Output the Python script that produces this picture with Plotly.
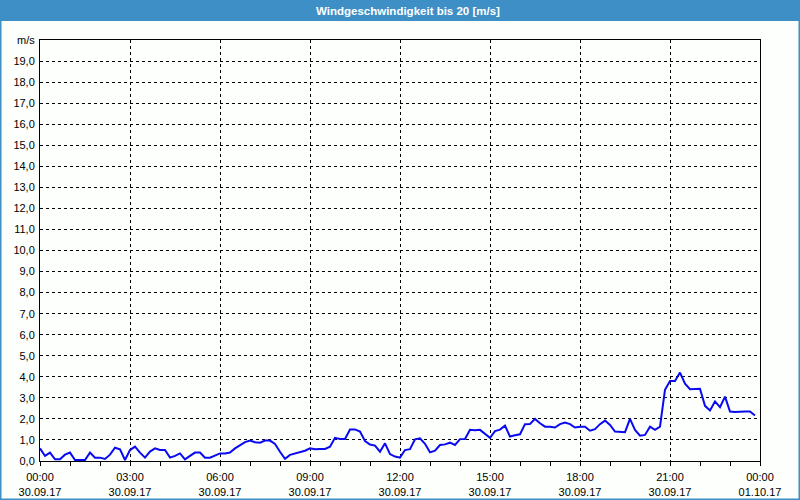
import plotly.graph_objects as go
from datetime import datetime, timedelta

# wind speed (m/s), one value every 10 minutes starting 30.09.17 00:00
wind = [
    0.6, 0.24, 0.4, 0.08, 0.08, 0.3, 0.4, 0.05, 0.05, 0.05,
    0.4, 0.16, 0.16, 0.1, 0.3, 0.63, 0.55, 0.05, 0.52, 0.68,
    0.4, 0.16, 0.45, 0.6, 0.52, 0.52, 0.16, 0.24, 0.36, 0.08,
    0.24, 0.4, 0.4, 0.16, 0.16, 0.28, 0.36, 0.36, 0.4, 0.6,
    0.74, 0.9, 0.97, 0.89, 0.87, 0.97, 0.97, 0.81, 0.44, 0.1,
    0.29, 0.35, 0.4, 0.49, 0.6, 0.56, 0.57, 0.57, 0.68, 1.1,
    1.05, 1.05, 1.5, 1.5, 1.4, 0.95, 0.78, 0.73, 0.44, 0.84,
    0.33, 0.21, 0.16, 0.52, 0.56, 1.03, 1.08, 0.82, 0.41, 0.49,
    0.76, 0.79, 0.87, 0.76, 1.04, 1.05, 1.48, 1.46, 1.48, 1.28,
    1.1, 1.42, 1.49, 1.68, 1.16, 1.22, 1.27, 1.75, 1.76, 2.0,
    1.79, 1.63, 1.63, 1.59, 1.75, 1.83, 1.75, 1.59, 1.63, 1.63,
    1.44, 1.51, 1.75, 1.92, 1.71, 1.4, 1.4, 1.37, 2.0, 1.48,
    1.2, 1.24, 1.63, 1.48, 1.63, 3.38, 3.8, 3.8, 4.2, 3.67,
    3.41, 3.42, 3.43, 2.62, 2.4, 2.83, 2.56, 3.06, 2.35, 2.33,
    2.35, 2.35, 2.35, 2.16,
]
start = datetime(2017, 9, 30, 0, 0)
times = [start + timedelta(minutes=10 * i) for i in range(len(wind))]

x_tick_vals = [start + timedelta(hours=3 * k) for k in range(9)]
x_tick_text = ["00:00<br>30.09.17", "03:00<br>30.09.17", "06:00<br>30.09.17",
               "09:00<br>30.09.17", "12:00<br>30.09.17", "15:00<br>30.09.17",
               "18:00<br>30.09.17", "21:00<br>30.09.17", "00:00<br>01.10.17"]
y_tick_vals = list(range(0, 21))
y_tick_text = [f"{v},0" for v in range(0, 20)] + ["m/s"]

title = "Windgeschwindigkeit bis 20 [m/s]"

fig = go.Figure()
fig.add_trace(go.Scatter(x=times, y=wind, mode="lines",
                         line=dict(color="#0a0af0", width=2)))

W, H = 800, 500
ml, mr, mt, mb = 40, 40, 40, 39
pw, ph = W - ml - mr, H - mt - mb

fig.update_layout(
    width=W, height=H,
    margin=dict(l=ml, r=mr, t=mt, b=mb, pad=0),
    paper_bgcolor="#fcfffc", plot_bgcolor="#fcfffc",
    showlegend=False,
    font=dict(family="Liberation Sans, Arial, sans-serif", size=11, color="#000"),
    xaxis=dict(
        type="date", automargin=False,
        range=[start, start + timedelta(hours=24)],
        tickvals=x_tick_vals, ticktext=x_tick_text,
        ticks="outside", ticklen=4, tickcolor="#000", tickwidth=1,
        ticklabelstandoff=2,
        minor=dict(dtick=3600000, ticks="outside", ticklen=4, tickcolor="#000", showgrid=False),
        showgrid=True, gridcolor="#000", gridwidth=1, griddash="3px,3px",
        showline=True, linecolor="#000", linewidth=1, mirror=True,
        zeroline=False, fixedrange=True,
    ),
    yaxis=dict(
        range=[0, 20], automargin=False,
        tickvals=y_tick_vals, ticktext=y_tick_text,
        ticks="", ticklabelstandoff=2,
        showgrid=True, gridcolor="#000", gridwidth=1, griddash="3px,3px",
        showline=True, linecolor="#000", linewidth=1, mirror=True,
        zeroline=False, fixedrange=True,
    ),
    shapes=[
        dict(type="rect", xref="paper", yref="paper",
             x0=-ml / pw, x1=1 + mr / pw, y0=1 + (mt - 21) / ph, y1=1 + mt / ph,
             fillcolor="#3d8fc6", line=dict(width=0), layer="above"),
        dict(type="rect", xref="paper", yref="paper",
             x0=-ml / pw, x1=1 + mr / pw, y0=-mb / ph, y1=1 + mt / ph,
             fillcolor="rgba(0,0,0,0)", line=dict(color="#3d8fc6", width=3), layer="above"),
    ],
    annotations=[
        dict(text=f"<b>{title}</b>", xref="paper", yref="paper",
             x=(400 - ml + 8) / pw, y=1 + (mt - 10.5) / ph,
             xanchor="center", yanchor="middle", showarrow=False,
             font=dict(family="Liberation Sans, Arial, sans-serif", size=11.5, color="#ffffff")),
    ],
)

fig.write_html("out.html", config=dict(displayModeBar=False, responsive=False))
